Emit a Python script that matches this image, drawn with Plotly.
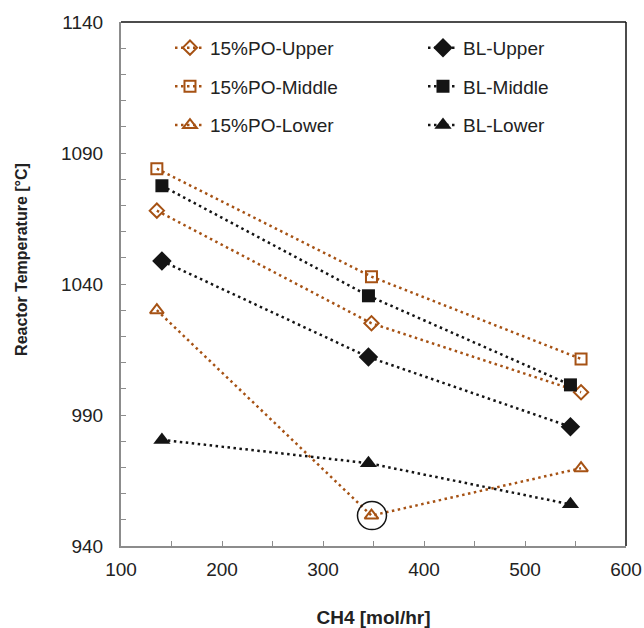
import plotly.graph_objects as go

# Data
po_x = [135.5, 348, 555.5]
bl_x = [140.5, 345, 545]
po_upper = [1068, 1025, 998.7]
po_middle = [1084, 1042.8, 1011.4]
po_lower = [1030, 951.6, 969.7]
bl_upper = [1048.8, 1012.1, 985.5]
bl_middle = [1077.5, 1035.5, 1001.5]
bl_lower = [980.5, 971.6, 955.9]

x_ticks = [100, 200, 300, 400, 500, 600]
y_ticks = [940, 990, 1040, 1090, 1140]

BROWN = "#A65214"
BLACK = "#141414"
FONT = "Liberation Sans, Arial, sans-serif"
DASH = "2.5px,3.5px"

fig = go.Figure()

series = [
    ("15%PO-Upper", po_x, po_upper, BROWN, "diamond-open", 11, "legend", "po_u"),
    ("15%PO-Middle", po_x, po_middle, BROWN, "square-open", 11, "legend", "po_m"),
    ("15%PO-Lower", po_x, po_lower, BROWN, "triangle-up-open", 12, "legend", "po_l"),
    ("BL-Upper", bl_x, bl_upper, BLACK, "diamond", 15, "legend2", "bl_u"),
    ("BL-Middle", bl_x, bl_middle, BLACK, "square", 13, "legend2", "bl_m"),
    ("BL-Lower", bl_x, bl_lower, BLACK, "triangle-up", 15, "legend2", "bl_l"),
]
for name, xs, ys, col, sym, size, leg, grp in series:
    fig.add_trace(go.Scatter(
        x=xs, y=ys, name=name, mode="lines+markers",
        line=dict(color=col, width=2.5, dash=DASH),
        marker=dict(symbol=sym, size=size, color=col,
                    line=dict(color=col, width=2 if "open" in sym else 0)),
        legend=leg, legendgroup=grp,
    ))

# circle highlighting the 15%PO-Lower point at the middle
fig.add_shape(type="circle", xref="x", yref="y", xsizemode="pixel", ysizemode="pixel",
              xanchor=po_x[1], yanchor=po_lower[1], x0=-14, x1=15, y0=-14, y1=14,
              line=dict(color=BLACK, width=1.5))

# top and right frame lines
fig.add_shape(type="line", xref="paper", yref="paper", x0=0, x1=1, y0=1, y1=1,
              line=dict(color="#111", width=1.5))
fig.add_shape(type="line", xref="paper", yref="paper", x0=1, x1=1, y0=0, y1=1,
              line=dict(color="#111", width=1.5))

# y axis title (placed slightly above the axis centre, as in the reference)
fig.add_annotation(text="<b>Reactor Temperature [°C]</b>", xref="paper", yref="paper",
                   x=-0.196, y=0.546, textangle=-90, showarrow=False,
                   xanchor="center", yanchor="middle",
                   font=dict(family=FONT, size=16, color="#222"))

axis_common = dict(
    showgrid=False, zeroline=False, showline=True, linecolor="#8c8c8c", linewidth=2,
    ticks="inside", ticklen=5, tickwidth=1, tickcolor="#8c8c8c", automargin=False,
    tickfont=dict(family=FONT, size=19, color="#222"),
)

fig.update_layout(
    width=644, height=628,
    margin=dict(l=121, r=18, t=22, b=82),
    paper_bgcolor="white", plot_bgcolor="white",
    font=dict(family=FONT, color="#222"),
    xaxis=dict(range=[100, 600], tickvals=x_ticks, ticktext=[str(v) for v in x_ticks],
               minor=dict(dtick=50, ticks="inside", ticklen=5, tickcolor="#8c8c8c"),
               ticklabelstandoff=5,
               title=dict(text="<b>CH4 [mol/hr]</b>",
                          font=dict(family=FONT, size=19, color="#222"), standoff=32),
               **axis_common),
    yaxis=dict(range=[940, 1140], tickvals=y_ticks, ticktext=[str(v) for v in y_ticks],
               minor=dict(dtick=10, ticks="inside", ticklen=5, tickcolor="#8c8c8c"),
               ticklabelstandoff=12,
               **axis_common),
    legend=dict(x=0.097, y=0.987, xanchor="left", yanchor="top", orientation="v",
                tracegroupgap=11, bgcolor="rgba(0,0,0,0)",
                font=dict(family=FONT, size=19, color="#222")),
    legend2=dict(x=0.598, y=0.987, xanchor="left", yanchor="top", orientation="v",
                 tracegroupgap=11, bgcolor="rgba(0,0,0,0)",
                 font=dict(family=FONT, size=19, color="#222")),
)

fig.write_html("out.html", config={"displayModeBar": False},
               post_script="document.body.style.margin='0';document.body.style.overflow='hidden';")
